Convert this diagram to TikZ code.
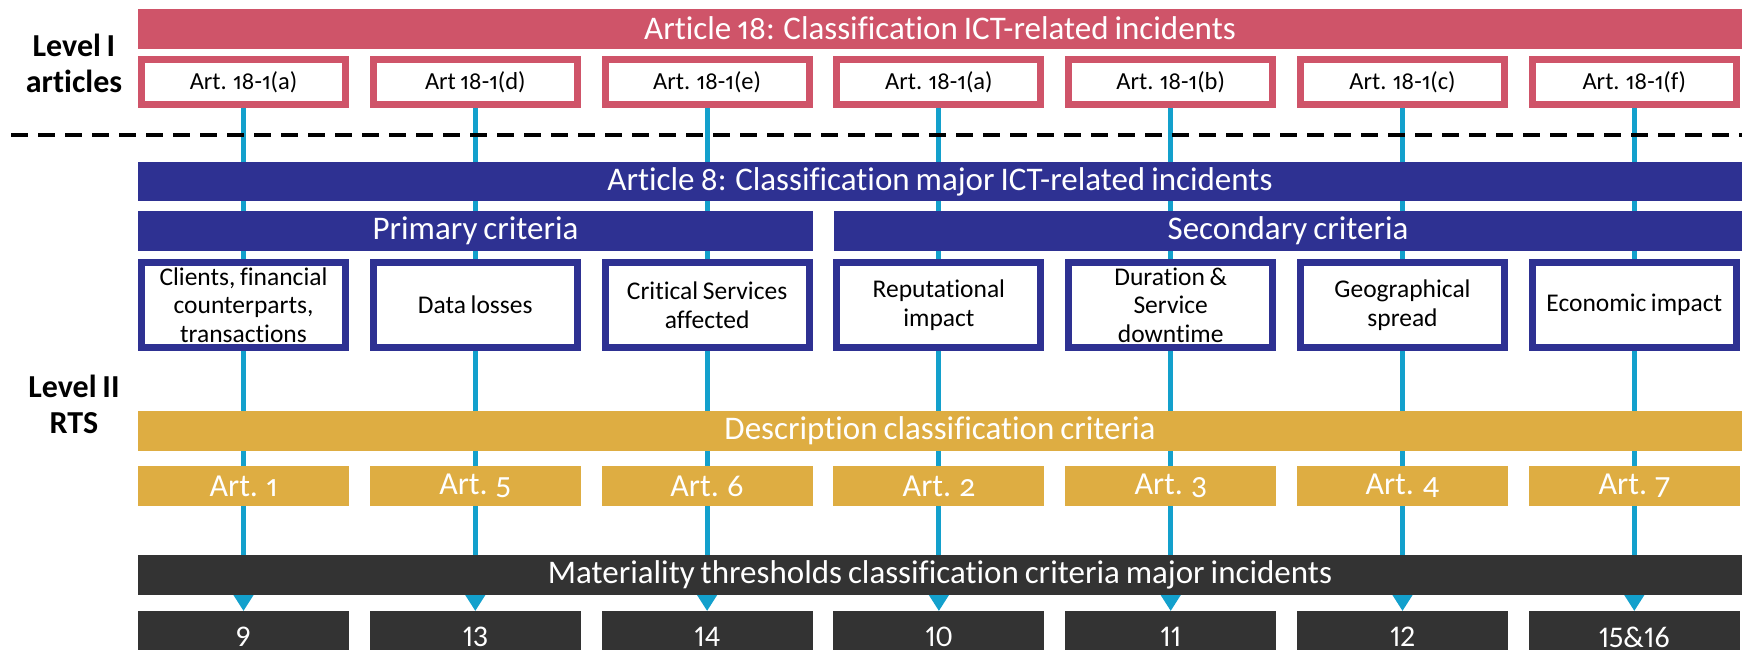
\documentclass[tikz,border=0pt]{standalone}
\usepackage{fontspec}
\setmainfont{Carlito}[Numbers={OldStyle,Proportional},Ligatures=NoCommon,WordSpace=0.8]
\usetikzlibrary{arrows.meta,backgrounds}
\definecolor{cred}{HTML}{CF5469}
\definecolor{cblue}{HTML}{2E3192}
\definecolor{cgold}{HTML}{DEAD42}
\definecolor{cdark}{HTML}{333333}
\definecolor{ccyan}{HTML}{13A0CC}
\tikzset{
  bar/.style={inner sep=0pt, outer sep=0pt, text=white, font=\fontsize{33}{36}\selectfont, minimum height=40pt},
  redbox/.style={draw=cred, line width=7pt, fill=white, inner sep=0pt, outer sep=0pt, minimum width=204pt, minimum height=45pt, font=\fontsize{24.5}{27}\selectfont},
  critbox/.style={draw=cblue, line width=7pt, fill=white, inner sep=0pt, outer sep=0pt, minimum width=204pt, minimum height=85pt, align=center, font=\fontsize{25.5}{28.5}\selectfont},
  goldbox/.style={fill=cgold, inner sep=0pt, outer sep=0pt, minimum width=211pt, minimum height=40pt, text=white, font=\fontsize{32}{36}\selectfont},
  numbox/.style={fill=cdark, inner sep=0pt, outer sep=0pt, minimum width=211pt, minimum height=52pt, text=white, font=\fontsize{30}{36}\selectfont\addfontfeatures{Numbers={Lining,Proportional}}},
  levellabel/.style={align=center, font=\bfseries\fontsize{32}{36}\selectfont},
  link/.style={draw=ccyan, line width=5pt, -{Triangle[width=19pt,length=16pt]}},
  sepline/.style={draw=black, line width=4pt, dash pattern=on 17pt off 10pt}
}
\begin{document}
\begin{tikzpicture}[x=1pt,y=-1pt]
\clip (0,0) rectangle (1750,649);

% level labels
\node[levellabel] (lev1) at (74,63) {Level I\\articles};
\node[levellabel] (lev2) at (74,404) {Level II\\RTS};

% top bar
\node[bar, fill=cred, minimum width=1604pt] (art18) at (940,28.5) {Article 18: Classification ICT-related incidents};

% separator
\draw[sepline] (11,135) -- (1742,135);

% level II bars
\node[bar, fill=cblue, minimum width=1604pt, minimum height=39pt] (art8) at (940,181.5) {Article 8: Classification major ICT-related incidents};
\node[bar, fill=cblue, minimum width=675pt] (prim) at (475.5,231) {Primary criteria};
\node[bar, fill=cblue, minimum width=908pt] (sec) at (1288,231) {Secondary criteria};
\node[bar, fill=cgold, minimum width=1604pt] (desc) at (940,431) {Description classification criteria};
\node[bar, fill=cdark, minimum width=1604pt] (mat) at (940,575) {Materiality thresholds classification criteria major incidents};

% columns
\foreach \i/\rtxt/\ctxt/\gtxt/\ntxt [count=\k from 0] in {
  1/{Art. 18-1(a)}/{Clients, financial\\counterparts,\\transactions}/{Art. 1}/{9},
  2/{Art 18-1(d)}/{Data losses}/{Art. 5}/{13},
  3/{Art. 18-1(e)}/{Critical Services\\affected}/{Art. 6}/{14},
  4/{Art. 18-1(a)}/{Reputational\\impact}/{Art. 2}/{10},
  5/{Art. 18-1(b)}/{Duration \&\\Service\\downtime}/{Art. 3}/{11},
  6/{Art. 18-1(c)}/{Geographical\\spread}/{Art. 4}/{12},
  7/{Art. 18-1(f)}/{Economic impact}/{Art. 7}/{15\&16}}{
  \pgfmathsetmacro{\cx}{243.5+231.8*\k}
  \node[redbox] (r\i) at (\cx,82) {\rtxt};
  \node[critbox] (c\i) at (\cx,305) {\ctxt};
  \node[goldbox] (g\i) at (\cx,486) {\gtxt};
  \node[numbox] (n\i) at (\cx,637) {\ntxt};
}

% white page and connectors behind everything
\begin{scope}[on background layer]
\fill[white] (0,0) rectangle (1750,649);
\foreach \i in {1,...,7}{
  \draw[link] (r\i.south) -- (n\i.north);
}
\end{scope}
\end{tikzpicture}
\end{document}
